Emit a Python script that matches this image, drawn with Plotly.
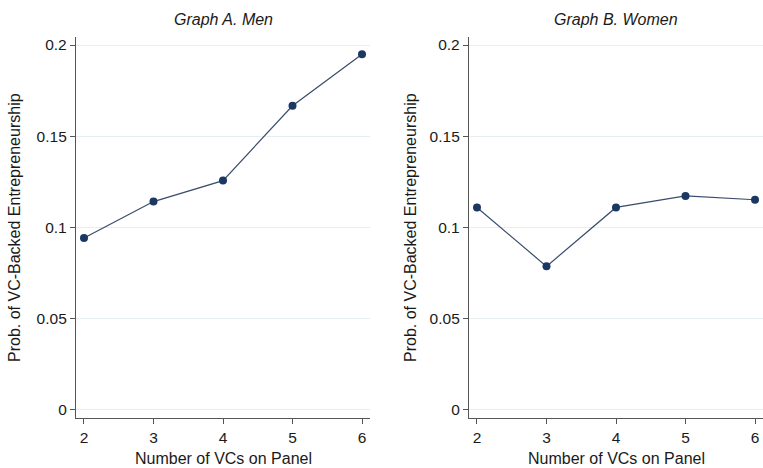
import plotly.graph_objects as go

panels_n = [2, 3, 4, 5, 6]
men_prob = [0.0942, 0.1142, 0.1257, 0.1667, 0.1949]
women_prob = [0.1110, 0.0787, 0.1110, 0.1173, 0.1152]
y_ticks = [0, 0.05, 0.1, 0.15, 0.2]
y_tick_labels = ["0", "0.05", "0.1", "0.15", "0.2"]
x_ticks = [2, 3, 4, 5, 6]
titles = ["Graph A. Men", "Graph B. Women"]
x_title = "Number of VCs on Panel"
y_title = "Prob. of VC-Backed Entrepreneurship"

FONT = "Liberation Sans, Arial, Helvetica, sans-serif"
MARK = "#1b3862"
LINE = "#3a4c6c"

fig = go.Figure()
fig.add_trace(go.Scatter(x=panels_n, y=men_prob, mode="lines+markers",
                         line=dict(color=LINE, width=1.2),
                         marker=dict(color=MARK, size=8),
                         xaxis="x", yaxis="y", showlegend=False))
fig.add_trace(go.Scatter(x=panels_n, y=women_prob, mode="lines+markers",
                         line=dict(color=LINE, width=1.2),
                         marker=dict(color=MARK, size=8),
                         xaxis="x2", yaxis="y2", showlegend=False))

W, H = 763, 468
T, B = 37, 50
left_dom = [76 / W, 370 / W]
right_dom = [469 / W, 1.0]

xcommon = dict(range=[1.885, 6.115], tickvals=x_ticks, ticks="outside", ticklen=5,
               tickcolor="#555", showline=True, linecolor="#555", linewidth=1.3,
               showgrid=False, zeroline=False,
               tickfont=dict(family=FONT, size=15.5, color="#1a1a1a"))
ycommon = dict(range=[-0.0044, 0.2044], tickvals=y_ticks, ticktext=y_tick_labels,
               ticks="outside", ticklen=5, tickcolor="#555", showline=True,
               linecolor="#555", linewidth=1.3, showgrid=True, gridcolor="#e6eef2",
               gridwidth=1, zeroline=False,
               tickfont=dict(family=FONT, size=15.5, color="#1a1a1a"))

fig.update_layout(
    width=W, height=H,
    margin=dict(l=0, r=0, t=T, b=B, autoexpand=False),
    paper_bgcolor="white", plot_bgcolor="white",
    xaxis=dict(domain=left_dom, anchor="y", **xcommon),
    yaxis=dict(domain=[0, 1], anchor="x", **ycommon),
    xaxis2=dict(domain=right_dom, anchor="y2", **xcommon),
    yaxis2=dict(domain=[0, 1], anchor="x2", **ycommon),
)


def py(pix):
    # pixel y from top -> paper coordinate
    return (H - B - pix) / (H - T - B)


ann = []
for dom, t in zip([left_dom, right_dom], titles):
    cx = (dom[0] + dom[1]) / 2
    ann.append(dict(text="<i>" + t + "</i>", x=cx, y=py(19), xref="paper", yref="paper",
                    showarrow=False, font=dict(family=FONT, size=16, color="#1a1a1a"),
                    xanchor="center", yanchor="middle"))
    ann.append(dict(text=x_title, x=cx, y=py(458), xref="paper", yref="paper",
                    showarrow=False, font=dict(family=FONT, size=16, color="#1a1a1a"),
                    xanchor="center", yanchor="middle"))
for xpix in [15, 411]:
    ann.append(dict(text=y_title, x=xpix / W, y=py(228), xref="paper", yref="paper",
                    showarrow=False, textangle=-90,
                    font=dict(family=FONT, size=16, color="#1a1a1a"),
                    xanchor="center", yanchor="middle"))
fig.update_layout(annotations=ann)

fig.write_html("out.html", config={"displayModeBar": False},
               post_script="document.body.style.margin='0';")
